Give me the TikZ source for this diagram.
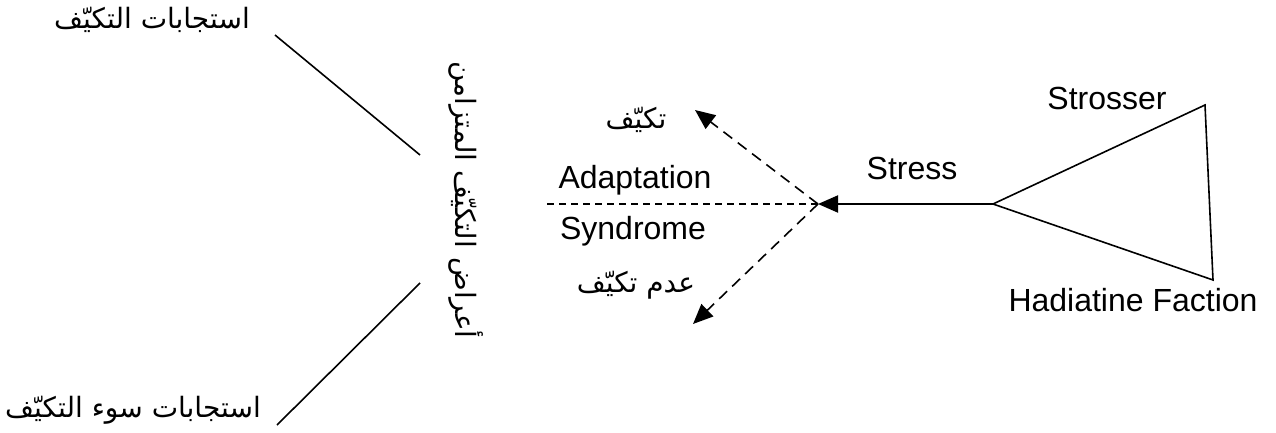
\documentclass[tikz,border=0pt]{standalone}
\usepackage{fontspec}
\setmainfont{Liberation Sans}
\newfontfamily\arabicfont[Script=Arabic]{DejaVu Sans}
\TeXXeTstate=1
\usetikzlibrary{arrows.meta}
\begin{document}
\begin{tikzpicture}[x=1pt,y=-1pt,
  lbl/.style={inner sep=0pt, font=\fontsize{32}{38}\selectfont},
  ar/.style={inner sep=0pt, font=\arabicfont\fontsize{28}{34}\selectfont},
  line/.style={line width=1.6pt},
  dasharrow/.style={line width=1.6pt, dash pattern=on 11pt off 7pt, -{Triangle[length=20pt,width=17pt]}},
  finedash/.style={line width=1.2pt, dash pattern=on 7pt off 5pt},
  solidarrow/.style={line width=2pt, -{Triangle[length=20pt,width=17pt]}}]
\useasboundingbox (0,0) rectangle (1276,433);
% labels
\node[ar] (resp) at (152,20) {\beginR استجابات التكيّف\endR};
\node[ar] (maladapt) at (133,410) {\beginR استجابات سوء التكيّف\endR};
\node[ar, rotate=-90] (gas) at (466,200) {\beginR أعراض التكيّف المتزامن\endR};
\node[ar] (adapt) at (636,120) {\beginR تكيّف\endR};
\node[ar] (nonadapt) at (636,285) {\beginR عدم تكيّف\endR};
\node[lbl] (adtxt) at (635,180) {Adaptation};
\node[lbl] (syn) at (633,231) {Syndrome};
\node[lbl] (stress) at (912,168) {Stress};
\node[lbl] (strosser) at (1107,98) {Strosser};
\node[lbl] (hadiatine) at (1133,300) {Hadiatine Faction};
% coordinates
\coordinate (l1a) at (275,35);
\coordinate (l1b) at (420,155);
\coordinate (l2a) at (420,283);
\coordinate (l2b) at (277,425);
\coordinate (hub) at (818,204);
\coordinate (dl) at (547,204);
\coordinate (upTip) at (695,110);
\coordinate (dnTip) at (693,324);
\coordinate (apex) at (993,204);
\coordinate (ttop) at (1205,105);
\coordinate (tbot) at (1213,280);
% lines
\draw[line] (l1a) -- (l1b);
\draw[line] (l2a) -- (l2b);
\draw[finedash] (dl) -- (hub);
\draw[dasharrow] (hub) -- (upTip);
\draw[dasharrow] (hub) -- (dnTip);
\draw[solidarrow] (apex) -- (hub);
\draw[line, line join=miter] (apex) -- (ttop) -- (tbot) -- cycle;
\end{tikzpicture}
\end{document}
